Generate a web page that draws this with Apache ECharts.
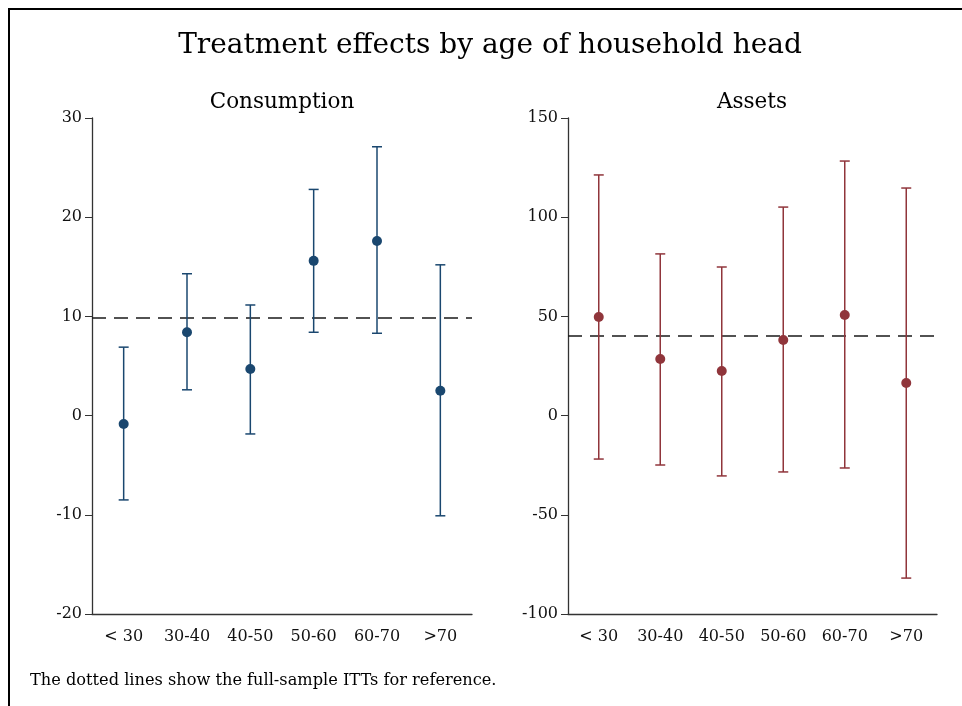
<!DOCTYPE html>
<html>
<head>
<meta charset="utf-8">
<script src="https://cdn.jsdelivr.net/npm/echarts@6/dist/echarts.min.js"></script>
<style>
html,body{margin:0;padding:0;background:#fff;}
#c{width:962px;height:706px;}
</style>
</head>
<body>
<div id="c"></div>
<script>
const categories = ['< 30','30-40','40-50','50-60','60-70','>70'];
const consPoint = [-0.85, 8.4, 4.7, 15.6, 17.6, 2.5];
const consLow   = [-8.5, 2.6, -1.85, 8.4, 8.3, -10.1];
const consHigh  = [6.9, 14.3, 11.15, 22.8, 27.1, 15.2];
const consRef = 9.85;
const assetPoint = [49.7, 28.5, 22.5, 38.1, 50.7, 16.4];
const assetLow   = [-21.9, -24.9, -30.4, -28.4, -26.4, -81.9];
const assetHigh  = [121.3, 81.5, 74.9, 105.1, 128.3, 114.7];
const assetRef = 40.1;

const FONT = 'DejaVu Serif';
const BLUE = '#1a476f';
const RED = '#90353b';

function errSeries(idx, low, high, color) {
  return {
    type: 'custom', xAxisIndex: idx, yAxisIndex: idx, z: 3,
    data: categories.map((c, i) => [i, low[i], high[i]]),
    renderItem: function (params, api) {
      const x = api.value(0);
      const lo = api.coord([x, api.value(1)]);
      const hi = api.coord([x, api.value(2)]);
      const hw = 5;
      const st = {stroke: color, lineWidth: 1.5, fill: null};
      return {type: 'group', children: [
        {type: 'line', shape: {x1: lo[0], y1: lo[1], x2: hi[0], y2: hi[1]}, style: st},
        {type: 'line', shape: {x1: lo[0]-hw, y1: lo[1], x2: lo[0]+hw, y2: lo[1]}, style: st},
        {type: 'line', shape: {x1: hi[0]-hw, y1: hi[1], x2: hi[0]+hw, y2: hi[1]}, style: st}
      ]};
    }
  };
}
function pointSeries(idx, vals, color, ref) {
  return {
    type: 'scatter', xAxisIndex: idx, yAxisIndex: idx, z: 4,
    symbol: 'circle', symbolSize: 10,
    itemStyle: {color: color, opacity: 1},
    data: vals.map((v, i) => [i, v]),
    markLine: {
      silent: true, symbol: 'none', z: 2,
      label: {show: false},
      lineStyle: {color: '#1a1a1a', width: 1.6, type: [14, 8]},
      data: [{yAxis: ref}]
    }
  };
}
function xAx(idx) {
  return {
    type: 'category', gridIndex: idx, data: categories, boundaryGap: true,
    axisLine: {onZero: false, lineStyle: {color: '#333', width: 1.3}},
    axisTick: {alignWithLabel: true, length: 6, lineStyle: {color: '#333'}},
    axisLabel: {fontFamily: FONT, fontSize: 16, color: '#111', margin: 15},
    splitLine: {show: false}
  };
}
function yAx(idx, min, max, interval) {
  return {
    type: 'value', gridIndex: idx, min: min, max: max, interval: interval,
    axisLine: {show: true, lineStyle: {color: '#333', width: 1.3}},
    axisTick: {show: true, length: 7, lineStyle: {color: '#333'}},
    axisLabel: {fontFamily: FONT, fontSize: 16, color: '#111', margin: 10},
    splitLine: {show: false}
  };
}
const chart = echarts.init(document.getElementById('c'), null, {renderer: 'canvas'});
chart.setOption({
  animation: false,
  backgroundColor: '#fff',
  title: [
    {text: 'Treatment effects by age of household head', left: 490, top: 32, textAlign: 'center', padding: 0,
     textStyle: {fontFamily: FONT, fontSize: 28, fontWeight: 'normal', color: '#000'}},
    {text: 'Consumption', left: 282, top: 91, textAlign: 'center', padding: 0,
     textStyle: {fontFamily: FONT, fontSize: 21.5, fontWeight: 'normal', color: '#000'}},
    {text: 'Assets', left: 752, top: 91, textAlign: 'center', padding: 0,
     textStyle: {fontFamily: FONT, fontSize: 21.5, fontWeight: 'normal', color: '#000'}},
    {text: 'The dotted lines show the full-sample ITTs for reference.', left: 30, top: 673, padding: 0,
     textStyle: {fontFamily: FONT, fontSize: 16.2, fontWeight: 'normal', color: '#000'}}
  ],
  grid: [
    {left: 92, right: 490, top: 118, bottom: 92},
    {left: 568, right: 25, top: 118, bottom: 92}
  ],
  xAxis: [xAx(0), xAx(1)],
  yAxis: [yAx(0, -20, 30, 10), yAx(1, -100, 150, 50)],
  graphic: [
    {type: 'polyline', shape: {points: [[9, 706], [9, 9], [962, 9]]},
     style: {stroke: '#000', lineWidth: 2, fill: null}}
  ],
  series: [
    errSeries(0, consLow, consHigh, BLUE),
    pointSeries(0, consPoint, BLUE, consRef),
    errSeries(1, assetLow, assetHigh, RED),
    pointSeries(1, assetPoint, RED, assetRef)
  ]
});
</script>
</body>
</html>
